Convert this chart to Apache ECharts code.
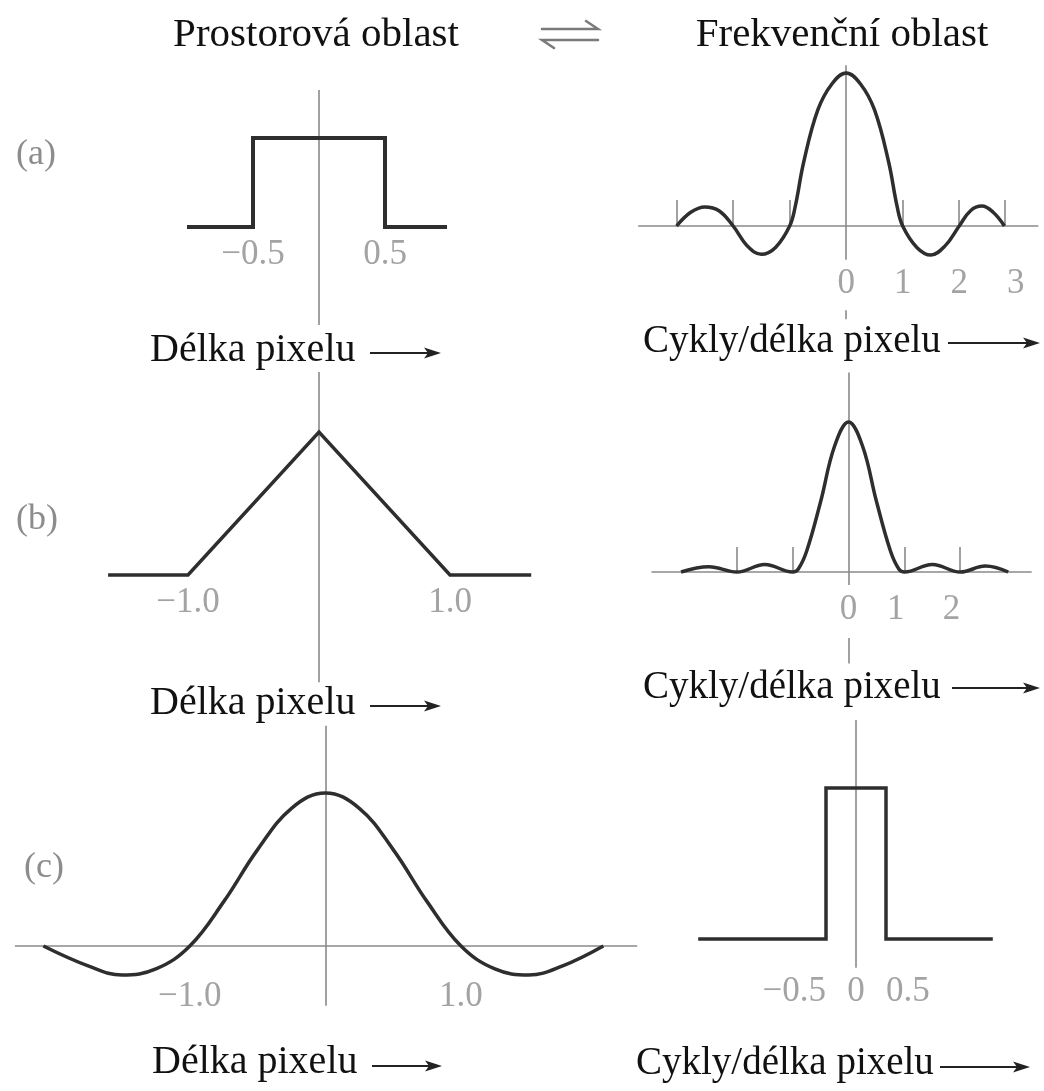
<!DOCTYPE html>
<html>
<head>
<meta charset="utf-8">
<script src="https://cdn.jsdelivr.net/npm/echarts@6/dist/echarts.min.js"></script>
<style>
  html, body { margin: 0; padding: 0; background: #fff; }
  #chart { width: 1044px; height: 1091px; }
</style>
</head>
<body>
<div id="chart"></div>
<script>
// ---- Data (x in pixel lengths or cycles per pixel length, y = relative amplitude) ----

// (a) box pixel and its sinc spectrum
const boxSpatial = [[-1.0, 0], [-0.5, 0], [-0.5, 1], [0.5, 1], [0.5, 0], [0.97, 0]];
const sincSpectrum = [
  [-3.0, 0], [-2.75, 0.09], [-2.5, 0.125], [-2.25, 0.10], [-2.0, 0],
  [-1.75, -0.13], [-1.5, -0.185], [-1.25, -0.14], [-1.0, 0], [-0.9, 0.13],
  [-0.75, 0.42], [-0.5, 0.76], [-0.25, 0.93], [0, 1], [0.25, 0.93],
  [0.5, 0.76], [0.75, 0.42], [0.9, 0.13], [1.0, 0], [1.25, -0.14],
  [1.5, -0.19], [1.75, -0.13], [2.0, 0], [2.2, 0.10], [2.4, 0.13],
  [2.6, 0.09], [2.8, 0]
];
const sincTicks = [-3, -2, -1, 1, 2, 2.8];

// (b) triangle (tent) and its sinc^2 spectrum
const tentSpatial = [[-1.61, 0], [-1.0, 0], [0, 1], [1.0, 0], [1.62, 0]];
const sinc2Spectrum = [
  [-3.0, 0], [-2.5, 0.035], [-2.0, 0], [-1.5, 0.05], [-1.0, 0],
  [-0.9, 0.02], [-0.75, 0.14], [-0.5, 0.47], [-0.25, 0.84], [0, 1],
  [0.25, 0.84], [0.5, 0.47], [0.75, 0.14], [0.9, 0.02], [1.0, 0],
  [1.5, 0.05], [2.0, 0], [2.45, 0.04], [2.86, 0]
];
const sinc2Ticks = [-2, -1, 1, 2];

// (c) sinc-shaped spatial kernel and its box spectrum
const sincSpatial = [
  [-2.08, 0], [-1.75, -0.13], [-1.5, -0.19], [-1.25, -0.15], [-1.0, 0],
  [-0.75, 0.29], [-0.5, 0.63], [-0.25, 0.90], [0, 1],
  [0.25, 0.90], [0.5, 0.63], [0.75, 0.29], [1.0, 0],
  [1.25, -0.15], [1.5, -0.19], [1.75, -0.13], [2.05, 0]
];
const boxSpectrum = [[-2.63, 0], [-0.5, 0], [-0.5, 1], [0.5, 1], [0.5, 0], [2.28, 0]];

// tick labels: [value, text, alignment]
const labelsA1 = [[-0.5, '−0.5', 'center'], [0.5, '0.5', 'center']];
const labelsA2 = [[0, '0', 'center'], [1, '1', 'center'], [2, '2', 'center'], [3, '3', 'center']];
const labelsB1 = [[-1, '−1.0', 'center'], [1, '1.0', 'center']];
const labelsB2 = [[0, '0', 'center'], [1, '1', 'right'], [2, '2', 'right']];
const labelsC1 = [[-1, '−1.0', 'center'], [1, '1.0', 'center']];
const labelsC2 = [[-0.5, '−0.5', 'right'], [0, '0', 'center'], [0.5, '0.5', 'left']];

// axis extents in data units
const axisA1 = { v: [[1.54, -1.10]], h: [] };
const axisA2 = { v: [[1.05, -0.22], [-0.55, -0.61]], h: [-3.68, 3.4] };
const axisB1 = { v: [[1.42, -0.75]], h: [] };
const axisB2 = { v: [[1.33, -0.087], [-0.44, -0.61]], h: [-3.53, 3.28] };
const axisC1 = { v: [[1.44, -0.39]], h: [-2.29, 2.30] };
const axisC2 = { v: [[1.45, -0.19]], h: [] };

// ---- Layout ----
const SERIF = "'Liberation Serif', 'DejaVu Serif', serif";
const INK = '#2e2e2e';
const AXIS = '#8a8a8a';
const GREY_TEXT = '#8c8c8c';

// cx, cy: pixel position of the origin; xu, yu: pixels per unit
const panels = [
  { cx: 319, cy: 227, xu: 132, yu: 89,  xr: [-1.3, 1.3], yr: [-1.3, 1.7], curve: boxSpatial,   smooth: false, w: 4,   axis: axisA1, ticks: [],         tickH: 0,     labels: labelsA1, labDy: 28 },
  { cx: 848, cy: 226, xu: 57,  yu: 153, xr: [-3.8, 3.5], yr: [-0.8, 1.2], curve: sincSpectrum, smooth: 0.4,   w: 3.5, axis: axisA2, ticks: sincTicks,  tickH: 0.17,  labels: labelsA2, labDy: 58 },
  { cx: 319, cy: 575, xu: 131, yu: 143, xr: [-1.8, 1.8], yr: [-0.9, 1.5], curve: tentSpatial,  smooth: false, w: 3.5, axis: axisB1, ticks: [],         tickH: 0,     labels: labelsB1, labDy: 28 },
  { cx: 853, cy: 572, xu: 57,  yu: 150, xr: [-3.8, 3.5], yr: [-0.8, 1.5], curve: sinc2Spectrum,smooth: 0.4,   w: 3.5, axis: axisB2, ticks: sinc2Ticks, tickH: 0.167, labels: labelsB2, labDy: 38 },
  { cx: 322, cy: 946, xu: 137, yu: 153, xr: [-2.4, 2.4], yr: [-0.6, 1.5], curve: sincSpatial,  smooth: 0.4,   w: 3.5, axis: axisC1, ticks: [],         tickH: 0,     labels: labelsC1, labDy: 51 },
  { cx: 856, cy: 939, xu: 60,  yu: 151, xr: [-2.8, 2.4], yr: [-0.5, 1.5], curve: boxSpectrum,  smooth: false, w: 3.5, axis: axisC2, ticks: [],         tickH: 0,     labels: labelsC2, labDy: 53 }
];

const grid = [], xAxis = [], yAxis = [], series = [];
panels.forEach((p, i) => {
  grid.push({
    left: p.cx + p.xr[0] * p.xu,
    top: p.cy - p.yr[1] * p.yu,
    width: (p.xr[1] - p.xr[0]) * p.xu,
    height: (p.yr[1] - p.yr[0]) * p.yu
  });
  xAxis.push({ type: 'value', gridIndex: i, min: p.xr[0], max: p.xr[1], show: false });
  yAxis.push({ type: 'value', gridIndex: i, min: p.yr[0], max: p.yr[1], show: false });

  // thin axis lines and frequency tick marks
  const segs = [];
  p.axis.v.forEach(v => segs.push({ coords: [[0, v[0]], [0, v[1]]] }));
  if (p.axis.h.length) segs.push({ coords: [[p.axis.h[0], 0], [p.axis.h[1], 0]] });
  p.ticks.forEach(t => segs.push({ coords: [[t, 0], [t, p.tickH]] }));
  series.push({
    type: 'lines', coordinateSystem: 'cartesian2d', xAxisIndex: i, yAxisIndex: i,
    data: segs, silent: true, z: 1,
    lineStyle: { color: AXIS, width: 1.6, opacity: 1 }
  });

  // the function itself
  series.push({
    type: 'line', xAxisIndex: i, yAxisIndex: i, data: p.curve,
    smooth: p.smooth, symbol: 'none', z: 3, silent: true,
    lineStyle: { color: INK, width: p.w, join: 'miter' }
  });

  // tick value labels
  series.push({
    type: 'scatter', xAxisIndex: i, yAxisIndex: i, symbolSize: 1, z: 4, silent: true,
    itemStyle: { color: 'rgba(0,0,0,0)' },
    data: p.labels.map(l => ({ value: [l[0], 0], name: l[1], label: { align: l[2] } })),
    label: {
      show: true, position: 'inside', offset: [0, p.labDy], formatter: '{b}',
      color: GREY_TEXT, fontSize: 35, fontFamily: SERIF
    }
  });
});

// ---- Text and arrows ----
function text(str, x, y, size, color, align) {
  return {
    type: 'text', x: x, y: y, silent: true,
    style: { text: str, font: size + 'px ' + SERIF, fill: color, align: align || 'left', verticalAlign: 'middle' }
  };
}
function arrow(x1, x2, y) {
  return {
    type: 'group', silent: true, children: [
      { type: 'line', shape: { x1: x1, y1: y, x2: x2 - 8, y2: y }, style: { stroke: '#222', lineWidth: 2 } },
      { type: 'polygon', shape: { points: [[x2 - 17, y - 5.5], [x2, y], [x2 - 17, y + 5.5], [x2 - 13, y]] }, style: { fill: '#222' } }
    ]
  };
}
// pair of harpoons between the two column headings
function harpoons(x1, x2, yTop, yBot) {
  const st = { stroke: '#7a7a7a', lineWidth: 2.5, fill: null, lineCap: 'round' };
  return {
    type: 'group', silent: true, children: [
      { type: 'polyline', shape: { points: [[x1, yTop], [x2, yTop], [x2 - 12, yTop - 8]] }, style: st },
      { type: 'polyline', shape: { points: [[x2, yBot], [x1, yBot], [x1 + 12, yBot + 8]] }, style: st }
    ]
  };
}

const graphic = [
  text('Prostorová oblast', 316, 35, 41, '#111', 'center'),
  harpoons(542, 598, 29, 40),
  text('Frekvenční oblast', 842, 35, 41, '#111', 'center'),

  text('(a)', 16, 155, 36, GREY_TEXT),
  text('(b)', 16, 520, 36, GREY_TEXT),
  text('(c)', 24, 868, 36, GREY_TEXT),

  text('Délka pixelu', 150, 350, 40, '#111'), arrow(370, 441, 353),
  text('Délka pixelu', 150, 703, 40, '#111'), arrow(370, 441, 706),
  text('Délka pixelu', 152, 1062, 40, '#111'), arrow(372, 442, 1066),

  text('Cykly/délka pixelu', 643, 342, 39, '#111'), arrow(948, 1040, 343),
  text('Cykly/délka pixelu', 643, 688, 39, '#111'), arrow(952, 1040, 688),
  text('Cykly/délka pixelu', 636, 1064, 39, '#111'), arrow(940, 1030, 1067)
];

const chart = echarts.init(document.getElementById('chart'), null, { renderer: 'canvas' });
chart.setOption({
  animation: false,
  backgroundColor: '#ffffff',
  grid: grid,
  xAxis: xAxis,
  yAxis: yAxis,
  series: series,
  graphic: graphic
});
</script>
</body>
</html>
